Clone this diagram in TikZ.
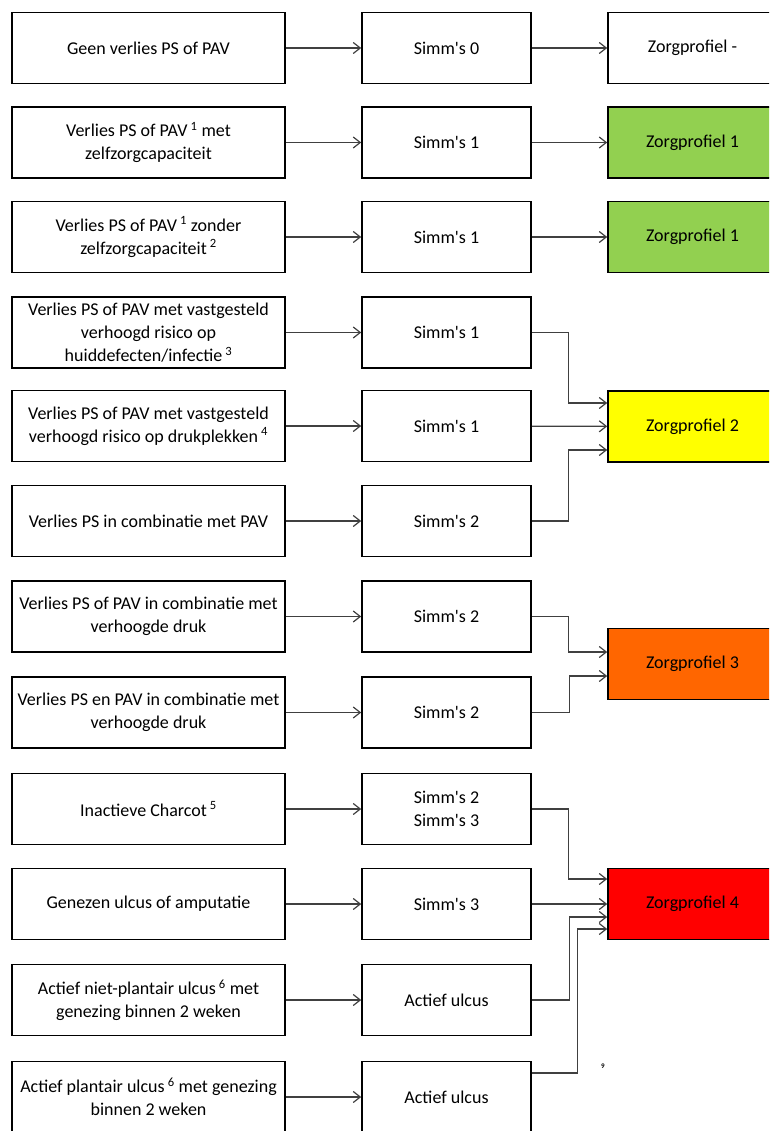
\documentclass[tikz,border=0pt]{standalone}
\usepackage{fontspec}
\setmainfont{Carlito}
\usetikzlibrary{arrows.meta}
\definecolor{zpgreen}{RGB}{146,208,80}
\definecolor{zpyellow}{RGB}{255,255,0}
\definecolor{zporange}{RGB}{255,102,0}
\definecolor{zpred}{RGB}{255,0,0}

\begin{document}
\begin{tikzpicture}[x=1pt, y=-1pt,
    box/.style={draw, line width=1.6pt, align=center, minimum height=71pt,
      inner sep=0pt, font=\fontsize{18}{23}\selectfont},
    criterium/.style={box, minimum width=273pt},
    simms/.style={box, minimum width=169pt},
    profiel/.style={box, minimum width=169pt},
    pijl/.style={-{Straight Barb[length=7pt,width=11pt]}, line width=1.2pt, black!75},
  ]
  \useasboundingbox (0,0) rectangle (769,1131);
  \clip (0,0) rectangle (769,1131);

  % criteria
  \node[criterium] (c1) at (148.5,48) {Geen verlies PS of PAV};
  \node[criterium] (c2) at (148.5,142.5) {Verlies PS of PAV\,\textsuperscript{1} met\\zelfzorgcapaciteit};
  \node[criterium] (c3) at (148.5,237) {Verlies PS of PAV\,\textsuperscript{1} zonder\\zelfzorgcapaciteit\,\textsuperscript{2}};
  \node[criterium] (c4) at (148.5,332.5) {Verlies PS of PAV met vastgesteld\\verhoogd risico op\\huiddefecten/infectie\,\textsuperscript{3}};
  \node[criterium] (c5) at (148.5,426) {Verlies PS of PAV met vastgesteld\\verhoogd risico op drukplekken\,\textsuperscript{4}};
  \node[criterium] (c6) at (148.5,521) {Verlies PS in combinatie met PAV};
  \node[criterium] (c7) at (148.5,616.5) {Verlies PS of PAV in combinatie met\\verhoogde druk};
  \node[criterium] (c8) at (148.5,712.5) {Verlies PS en PAV in combinatie met\\verhoogde druk};
  \node[criterium] (c9) at (148.5,809) {Inactieve Charcot\,\textsuperscript{5}};
  \node[criterium] (c10) at (148.5,904) {Genezen ulcus of amputatie};
  \node[criterium] (c11) at (148.5,1000) {Actief niet-plantair ulcus\,\textsuperscript{6} met\\genezing binnen 2 weken};
  \node[criterium] (c12) at (148.5,1097) {Actief plantair ulcus\,\textsuperscript{6} met genezing\\binnen 2 weken};

  % simm's
  \node[simms] (m1) at (446.5,48) {Simm\textquotesingle s 0};
  \node[simms] (m2) at (446.5,142.5) {Simm\textquotesingle s 1};
  \node[simms] (m3) at (446.5,237) {Simm\textquotesingle s 1};
  \node[simms] (m4) at (446.5,332.5) {Simm\textquotesingle s 1};
  \node[simms] (m5) at (446.5,426) {Simm\textquotesingle s 1};
  \node[simms] (m6) at (446.5,521) {Simm\textquotesingle s 2};
  \node[simms] (m7) at (446.5,616.5) {Simm\textquotesingle s 2};
  \node[simms] (m8) at (446.5,712.5) {Simm\textquotesingle s 2};
  \node[simms] (m9) at (446.5,809) {Simm\textquotesingle s 2\\Simm\textquotesingle s 3};
  \node[simms] (m10) at (446.5,904) {Simm\textquotesingle s 3};
  \node[simms] (m11) at (446.5,1000) {Actief ulcus};
  \node[simms] (m12) at (446.5,1097) {Actief ulcus};

  % zorgprofielen
  \node[profiel] (p0) at (692.5,48) {Zorgprofiel -};
  \node[profiel, fill=zpgreen] (p1a) at (692.5,142.5) {Zorgprofiel 1};
  \node[profiel, fill=zpgreen] (p1b) at (692.5,237) {Zorgprofiel 1};
  \node[profiel, fill=zpyellow] (p2) at (692.5,426.5) {Zorgprofiel 2};
  \node[profiel, fill=zporange] (p3) at (692.5,664) {Zorgprofiel 3};
  \node[profiel, fill=zpred] (p4) at (692.5,904) {Zorgprofiel 4};

  \node[font=\fontsize{7}{7}\selectfont\bfseries] (voet) at (603,1066) {9};

  \foreach \i in {1,...,12}
    \draw[pijl] (c\i) -- (m\i);

  \draw[pijl] (m1) -- (p0);
  \draw[pijl] (m2) -- (p1a);
  \draw[pijl] (m3) -- (p1b);

  \draw[pijl] (m4.east) -- ++(37,0) |- ([yshift=23.5pt]p2.west);
  \draw[pijl] (m5) -- (p2);
  \draw[pijl] (m6.east) -- ++(37,0) |- ([yshift=-23.5pt]p2.west);

  \draw[pijl] (m7.east) -- ++(37,0) |- ([yshift=12pt]p3.west);
  \draw[pijl] (m8.east) -- ++(38,0) |- ([yshift=-12pt]p3.west);

  \draw[pijl] (m9.east) -- ++(37,0) |- ([yshift=25pt]p4.west);
  \draw[pijl] (m10) -- (p4);
  \draw[pijl] (m11.east) -- ++(38,0) |- ([yshift=-13pt]p4.west);
  \draw[pijl] ([yshift=24pt]m12.east) -- ++(46,0) |- ([yshift=-25pt]p4.west);
\end{tikzpicture}
\end{document}
